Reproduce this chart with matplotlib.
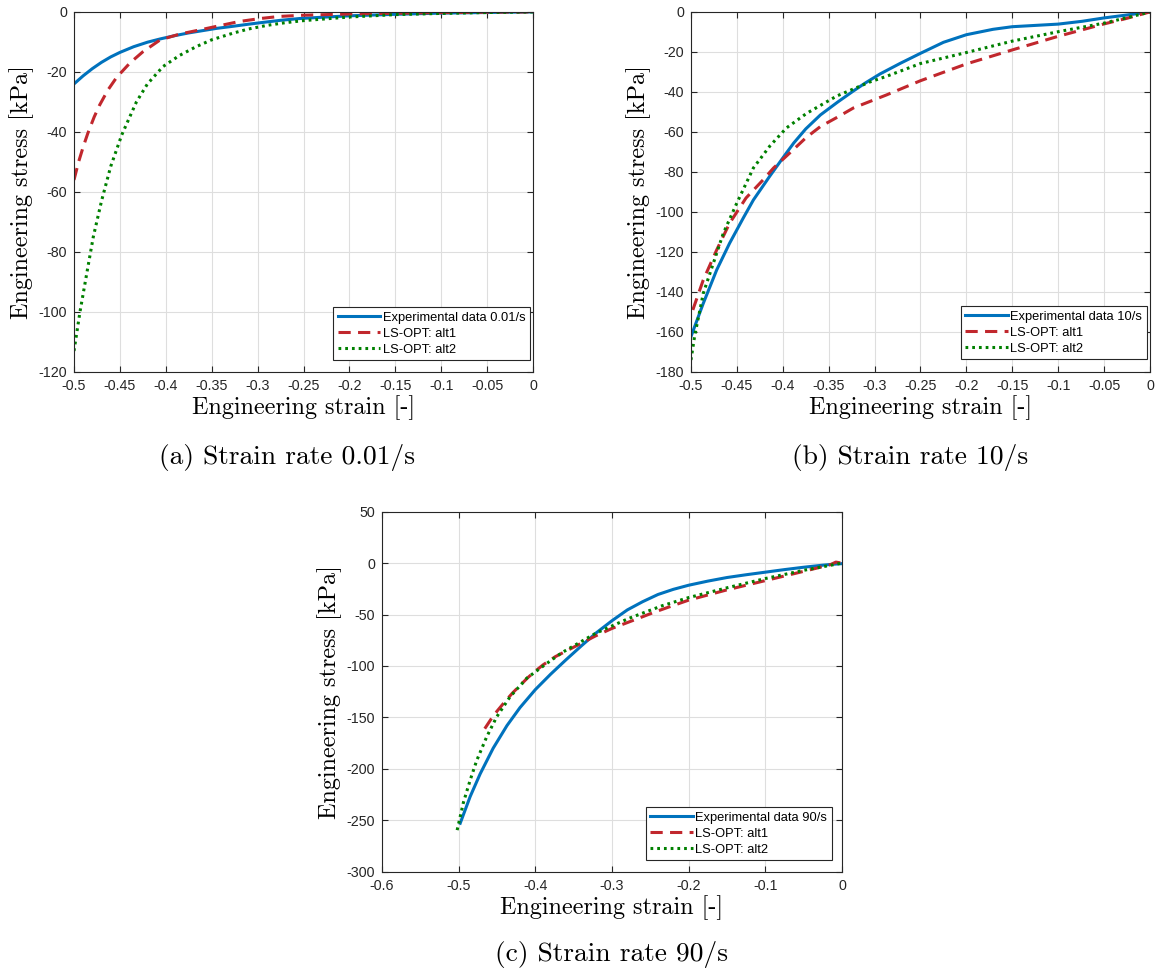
import matplotlib
matplotlib.use("Agg")
import matplotlib.pyplot as plt

plt.rcParams['font.family'] = ['Liberation Sans', 'DejaVu Sans']
plt.rcParams['axes.unicode_minus'] = False

BLUE = '#0072BD'
RED = '#C1272D'
GREEN = '#008000'

# strain rate 0.01/s
a_exp_x = [-0.5, -0.49, -0.48, -0.47, -0.46, -0.45, -0.435, -0.42, -0.406, -0.39, -0.375, -0.363,
           -0.345, -0.327, -0.31, -0.297, -0.275, -0.254, -0.225, -0.2, -0.15, -0.1, -0.05, 0.0]
a_exp_y = [-24, -21.3, -18.9, -16.8, -15.0, -13.5, -11.6, -10.1, -9, -7.9, -7.0, -6.4,
           -5.5, -4.8, -4.1, -3.6, -2.8, -2.2, -1.7, -1.3, -0.8, -0.4, -0.2, 0]
a_alt1_x = [-0.5, -0.495, -0.49, -0.485, -0.478, -0.472, -0.463, -0.4535, -0.439, -0.425, -0.406,
            -0.385, -0.363, -0.34, -0.32, -0.297, -0.276, -0.25, -0.2, -0.15, -0.1, -0.05, 0.0]
a_alt1_y = [-56, -50, -45, -40.5, -35, -31, -26, -21.8, -17, -13.3, -9.3,
            -7.4, -6, -4.5, -3.2, -2.2, -1.5, -1.1, -0.7, -0.45, -0.25, -0.1, 0]
a_alt2_x = [-0.5, -0.4935, -0.486, -0.479, -0.47, -0.46, -0.448, -0.432, -0.42, -0.403, -0.385,
            -0.367, -0.35, -0.327, -0.31, -0.29, -0.27, -0.25, -0.2, -0.15, -0.1, -0.05, 0.0]
a_alt2_y = [-113, -100, -87, -75, -63, -51.5, -41, -30, -24, -18.2, -14.5,
            -11.6, -9.3, -7.1, -5.7, -4.5, -3.6, -2.9, -1.7, -0.9, -0.5, -0.2, 0]

# strain rate 10/s
b_exp_x = [-0.5, -0.4866, -0.472, -0.458, -0.443, -0.432, -0.414, -0.396, -0.388, -0.375, -0.359,
           -0.34, -0.323, -0.31, -0.294, -0.272, -0.25, -0.225, -0.2, -0.171, -0.15, -0.1,
           -0.074, -0.05, -0.026, 0.0]
b_exp_y = [-162.3, -145.7, -129, -115.7, -103, -94, -82, -70.5, -65.5, -58.5, -51.5,
           -45, -39.5, -35.5, -31, -25.7, -20.7, -15.2, -11.4, -8.7, -7.4, -6.1,
           -4.7, -3, -1.6, 0]
b_alt1_x = [-0.498, -0.4866, -0.472, -0.458, -0.44, -0.4215, -0.41, -0.39, -0.375, -0.359, -0.34,
            -0.323, -0.287, -0.25, -0.2, -0.15, -0.1, -0.05, -0.026, 0.0]
b_alt1_y = [-149, -134, -119, -105.7, -93, -84, -78, -69.5, -63, -57.3, -52.5,
            -48, -41.5, -34.4, -26, -19, -12.2, -6, -3.3, 0]
b_alt2_x = [-0.5, -0.496, -0.4866, -0.4757, -0.4648, -0.45, -0.432, -0.414, -0.396, -0.374, -0.341,
            -0.305, -0.287, -0.25, -0.2, -0.15, -0.1, -0.05, -0.026, 0.0]
b_alt2_y = [-174, -162, -140.7, -125.7, -110.7, -95.5, -78, -67, -58, -50.7, -42,
            -35, -32.2, -25.8, -20.3, -14.6, -9.9, -5.6, -3, 0]

# strain rate 90/s
c_exp_x = [-0.498, -0.485, -0.472, -0.455, -0.437, -0.42, -0.4, -0.38, -0.36, -0.34, -0.32,
           -0.3, -0.28, -0.26, -0.24, -0.22, -0.2, -0.175, -0.15, -0.125, -0.1, -0.075,
           -0.05, -0.025, -0.01, 0.0]
c_exp_y = [-253, -227, -205, -180, -158, -140.5, -123, -108, -94, -80.5, -67.5,
           -56, -45.5, -37.5, -30.5, -25.5, -21.5, -17.5, -14, -11.3, -8.8, -6.3,
           -4, -2, -1, -0.5]
c_alt1_x = [-0.466, -0.458, -0.45, -0.44, -0.43, -0.42, -0.41, -0.4, -0.39, -0.374, -0.348,
            -0.322, -0.3, -0.27, -0.244, -0.227, -0.2, -0.15, -0.1, -0.05, -0.015, -0.008, 0.0]
c_alt1_y = [-161, -152, -144, -135, -126.5, -119, -111.5, -105, -99, -91, -81,
            -71, -63.5, -55, -47.5, -43, -36, -26, -17, -8, -1.5, 1, 0]
c_alt2_x = [-0.502, -0.4939, -0.485, -0.4765, -0.4635, -0.4504, -0.433, -0.4113, -0.385, -0.3652,
            -0.3217, -0.2782, -0.2348, -0.2, -0.15, -0.1, -0.05, 0.0]
c_alt2_y = [-259.7, -233, -211, -192, -169, -149.5, -130, -112, -97.5, -87,
            -68.4, -53.8, -41.5, -33.5, -24, -15, -7, 0]

panels = [
    dict(rect=[0.0639, 0.6189, 0.3964, 0.3689], data=(a_exp_x, a_exp_y, a_alt1_x, a_alt1_y, a_alt2_x, a_alt2_y),
         rate='0.01/s', caption='(a) Strain rate 0.01/s', xlim=(-0.5, 0), ylim=(-120, 0),
         xticks=[-0.5, -0.45, -0.4, -0.35, -0.3, -0.25, -0.2, -0.15, -0.1, -0.05, 0],
         yticks=list(range(-120, 1, 20)), leg=(0.9935, 0.033), cap=(287, 458)),
    dict(rect=[0.5967, 0.6189, 0.3964, 0.3689], data=(b_exp_x, b_exp_y, b_alt1_x, b_alt1_y, b_alt2_x, b_alt2_y),
         rate='10/s', caption='(b) Strain rate 10/s', xlim=(-0.5, 0), ylim=(-180, 0),
         xticks=[-0.5, -0.45, -0.4, -0.35, -0.3, -0.25, -0.2, -0.15, -0.1, -0.05, 0],
         yticks=list(range(-180, 1, 20)), leg=(0.9928, 0.035), cap=(910, 458)),
    dict(rect=[0.3299, 0.1070, 0.3972, 0.3687], data=(c_exp_x, c_exp_y, c_alt1_x, c_alt1_y, c_alt2_x, c_alt2_y),
         rate='90/s', caption='(c) Strain rate 90/s', xlim=(-0.6, 0), ylim=(-300, 50),
         xticks=[-0.6, -0.5, -0.4, -0.3, -0.2, -0.1, 0],
         yticks=list(range(-300, 51, 50)), leg=(0.9776, 0.032), cap=(612, 955)),
]

fig = plt.figure(figsize=(11.58, 9.76), dpi=100)
W, H = 1158, 976

for p in panels:
    ax = fig.add_axes(p['rect'])
    ex, ey, r1x, r1y, r2x, r2y = p['data']
    ax.plot(ex, ey, color=BLUE, lw=2.2, label='Experimental data ' + p['rate'])
    ax.plot(r1x, r1y, color=RED, lw=2.2, dashes=(4.0, 2.4), label='LS-OPT: alt1')
    ax.plot(r2x, r2y, color=GREEN, lw=2.2, linestyle=(0, (0.9, 1.3)), label='LS-OPT: alt2')
    ax.set_xlim(*p['xlim'])
    ax.set_ylim(*p['ylim'])
    ax.set_xticks(p['xticks'])
    ax.set_xticklabels(['%g' % v for v in p['xticks']])
    ax.set_yticks(p['yticks'])
    ax.set_yticklabels(['%g' % v for v in p['yticks']])
    ax.grid(True, color='#dedede', lw=0.8)
    ax.set_axisbelow(True)
    ax.tick_params(direction='in', top=True, right=True, length=4, width=0.8,
                   labelsize=10.3, colors='#262626', pad=5)
    for s in ax.spines.values():
        s.set_color('#262626')
        s.set_linewidth(0.8)
    ax.set_xlabel('Engineering strain [-]', fontfamily='cmr10', fontsize=17.4, labelpad=2)
    ax.set_ylabel('Engineering stress [kPa]', fontfamily='cmr10', fontsize=17.4, labelpad=3)
    leg = ax.legend(loc='lower right', bbox_to_anchor=p['leg'], fontsize=9.3, handlelength=3.3,
                    fancybox=False, framealpha=1, edgecolor='#262626', borderpad=0.35,
                    labelspacing=0.3, handletextpad=0.2, borderaxespad=0)
    leg.get_frame().set_linewidth(0.8)
    cx, cy = p['cap']
    fig.text(cx / W, 1 - cy / H, p['caption'], fontfamily='cmr10', fontsize=19.8,
             ha='center', va='center')

fig.savefig('out.png', dpi=100)
